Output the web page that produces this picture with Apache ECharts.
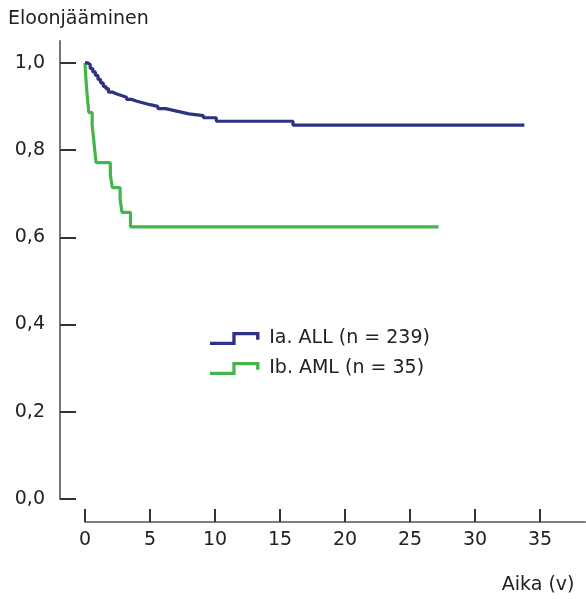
<!DOCTYPE html>
<html>
<head>
<meta charset="utf-8">
<script src="https://cdn.jsdelivr.net/npm/echarts@6/dist/echarts.min.js"></script>
<style>
html,body{margin:0;padding:0;background:#fff;}
#chart{width:586px;height:599px;}
</style>
</head>
<body>
<div id="chart"></div>
<script>
// Data (Kaplan–Meier survival estimates)
const seriesNames = ['Ia. ALL (n = 239)', 'Ib. AML (n = 35)'];
const timesALL = [0, 0.2, 0.4, 0.6, 0.8, 1.0, 1.2, 1.4, 1.6, 1.8, 2.1, 2.4, 2.8, 3.2, 3.6, 4.0, 4.5, 5.0, 5.6, 6.2, 6.8, 7.4, 8.0, 9.1, 10.1, 16.0, 33.8];
const survALL  = [1.0, 0.996, 0.987, 0.979, 0.971, 0.962, 0.954, 0.946, 0.941, 0.933, 0.929, 0.925, 0.921, 0.916, 0.912, 0.908, 0.904, 0.900, 0.895, 0.891, 0.887, 0.883, 0.879, 0.874, 0.866, 0.857, 0.857];
const timesAML = [0, 0.05, 0.12, 0.2, 0.3, 0.55, 0.65, 0.75, 0.85, 1.95, 2.1, 2.7, 2.85, 3.5, 27.2];
const survAML  = [1.0, 0.971, 0.943, 0.914, 0.886, 0.857, 0.829, 0.800, 0.771, 0.743, 0.714, 0.686, 0.657, 0.624, 0.624];
const xTicks = [0, 5, 10, 15, 20, 25, 30, 35];
const yTicks = [0, 0.2, 0.4, 0.6, 0.8, 1.0];
const xName = 'Aika (v)';
const yName = 'Eloonjääminen';

const FONT = 'DejaVu Sans';
const TXT = '#222';
const colALL = '#2d3282';
const colAML = '#45b54b';
const stepIcon = 'path://M0,10 L23,10 L23,0 L51,0 L51,8 L47.5,8 L47.5,3.4 L26.4,3.4 L26.4,13.4 L0,13.4 Z';

const zip = (a, b) => a.map((v, i) => [v, b[i]]);

const chart = echarts.init(document.getElementById('chart'), null, {renderer: 'canvas'});
chart.setOption({
  animation: false,
  backgroundColor: '#fff',
  grid: {left: 85, right: 0.5, top: 41, bottom: 100, containLabel: false},
  legend: {
    orient: 'vertical',
    left: 205,
    top: 324,
    itemWidth: 51,
    itemHeight: 13,
    itemGap: 11,
    icon: stepIcon,
    itemStyle: {borderWidth: 0},
    textStyle: {fontFamily: FONT, fontSize: 19, color: TXT, padding: [3, 0, 0, 4]},
    data: seriesNames
  },
  xAxis: {
    type: 'value',
    min: 0,
    max: 38.5,
    interval: 5,
    offset: 23,
    name: xName,
    nameLocation: 'end',
    nameGap: -11,
    nameTextStyle: {fontFamily: FONT, fontSize: 19, color: TXT, align: 'right', verticalAlign: 'top', padding: [54, 0, 0, 0]},
    axisLine: {show: true, onZero: false, lineStyle: {color: '#555', width: 1.5}},
    axisTick: {show: true, inside: true, length: 13, customValues: xTicks, lineStyle: {color: '#333', width: 2}},
    axisLabel: {show: true, customValues: xTicks, margin: 9, fontFamily: FONT, fontSize: 19, color: TXT},
    splitLine: {show: false}
  },
  yAxis: {
    type: 'value',
    min: 0,
    max: 1.05,
    offset: 25,
    name: yName,
    nameLocation: 'end',
    nameGap: 22,
    nameTextStyle: {fontFamily: FONT, fontSize: 19, color: TXT, align: 'left', verticalAlign: 'middle', padding: [0, 0, 0, -52]},
    axisLine: {show: true, onZero: false, lineStyle: {color: '#777', width: 2}},
    axisTick: {show: true, inside: true, length: 16, customValues: yTicks, lineStyle: {color: '#333', width: 2}},
    axisLabel: {show: true, customValues: yTicks, margin: 15, fontFamily: FONT, fontSize: 19, color: TXT,
      formatter: v => v.toFixed(1).replace('.', ',')},
    splitLine: {show: false}
  },
  series: [
    {
      name: seriesNames[0], type: 'line', step: 'end', showSymbol: false, symbol: 'none',
      color: colALL, lineStyle: {color: colALL, width: 3.2},
      data: zip(timesALL, survALL), z: 3
    },
    {
      name: seriesNames[1], type: 'line', step: 'end', showSymbol: false, symbol: 'none',
      color: colAML, lineStyle: {color: colAML, width: 3.2},
      data: zip(timesAML, survAML), z: 2
    }
  ]
});
</script>
</body>
</html>
